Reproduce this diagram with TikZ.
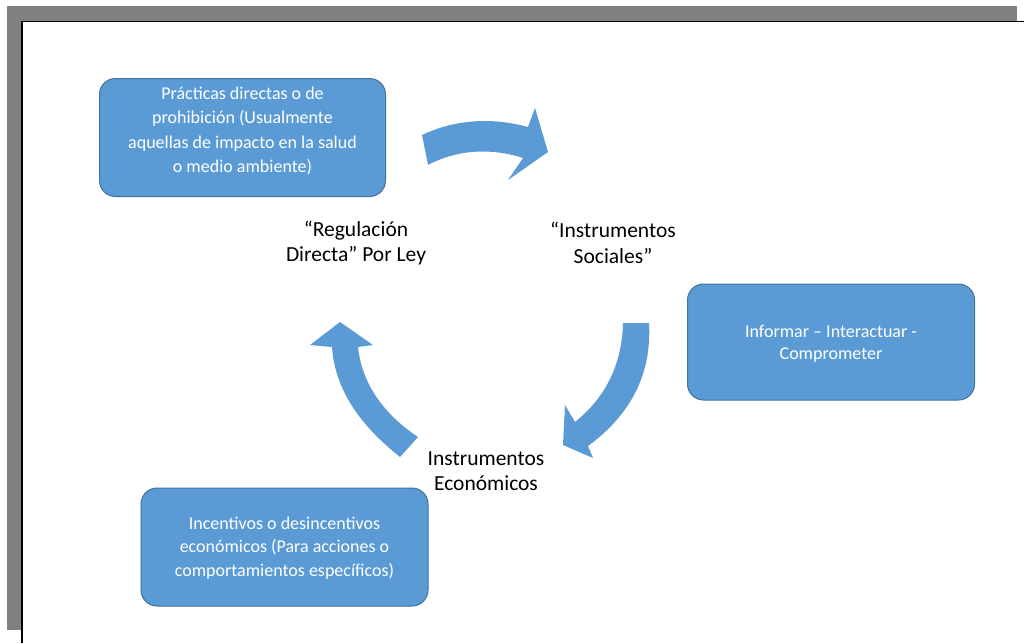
\documentclass[tikz,border=0pt]{standalone}
\usepackage{fontspec}
\setmainfont{Carlito}
\definecolor{boxfill}{HTML}{5B9BD5}
\definecolor{boxline}{HTML}{41719C}
\definecolor{framegray}{HTML}{808080}
\tikzset{
  infobox/.style={draw=boxline, line width=1pt, fill=boxfill, rounded corners=16pt,
    text=white, align=center, inner sep=0pt,
    font=\fontsize{18}{23.5}\selectfont},
  cyclelabel/.style={align=center, text=black, inner sep=0pt,
    font=\fontsize{21.5}{25.5}\selectfont},
  blockarrow/.style={fill=boxfill, draw=none}
}
\begin{document}
\begin{tikzpicture}[x=1pt,y=-1pt]
\useasboundingbox (0,0) rectangle (1024,643);
% frame
\fill[framegray] (7,6) rectangle (1017,21);
\fill[framegray] (7,6) rectangle (21,630);
\draw[black, line width=1.5pt] (22,643) -- (22,21.5) -- (1024,21.5);

% boxes
\node[infobox, minimum width=286pt, minimum height=118pt] (b1) at (242.5,137.5) {};
\node[infobox, minimum width=287pt, minimum height=116pt] (b2) at (831,342) {};
\node[infobox, minimum width=287pt, minimum height=118pt] (b3) at (284.5,547) {};

\node[infobox, draw=none, fill=none, font=\fontsize{18}{24.5}\selectfont] (t1) at (242.5,131) {Prácticas directas o de\\prohibición (Usualmente\\aquellas de impacto en la salud\\o medio ambiente)};
\node[infobox, draw=none, fill=none, font=\fontsize{18}{22}\selectfont] (t2) at (831,344) {Informar – Interactuar -\\Comprometer};
\node[infobox, draw=none, fill=none] (t3) at (284.5,548) {Incentivos o desincentivos\\económicos (Para acciones o\\comportamientos específicos)};

% labels
\node[cyclelabel] (l1) at (356,243) {“Regulación\\Directa” Por Ley};
\node[cyclelabel] (l2) at (613,243) {“Instrumentos\\Sociales”};
\node[cyclelabel] (l3) at (486,471) {Instrumentos\\Económicos};

% curved block arrows
\fill[blockarrow] (422,135) .. controls (458,118) and (495,118) .. (528,127)
  -- (535,108) -- (548,152) -- (508,180) -- (523,158)
  .. controls (492,148) and (458,149) .. (428,165) -- cycle;
\fill[blockarrow] (623,323) -- (649,323) .. controls (652,375) and (630,415) .. (588,446)
  -- (593,458) -- (563,445) -- (565,405) -- (575,422)
  .. controls (605,398) and (622,365) .. (623,323) -- cycle;
\fill[blockarrow] (400,457) .. controls (360,425) and (335,390) .. (332,347)
  -- (310,345) -- (340,322) -- (373,345) -- (358,347)
  .. controls (362,385) and (385,415) .. (418,437) -- cycle;
\end{tikzpicture}
\end{document}
